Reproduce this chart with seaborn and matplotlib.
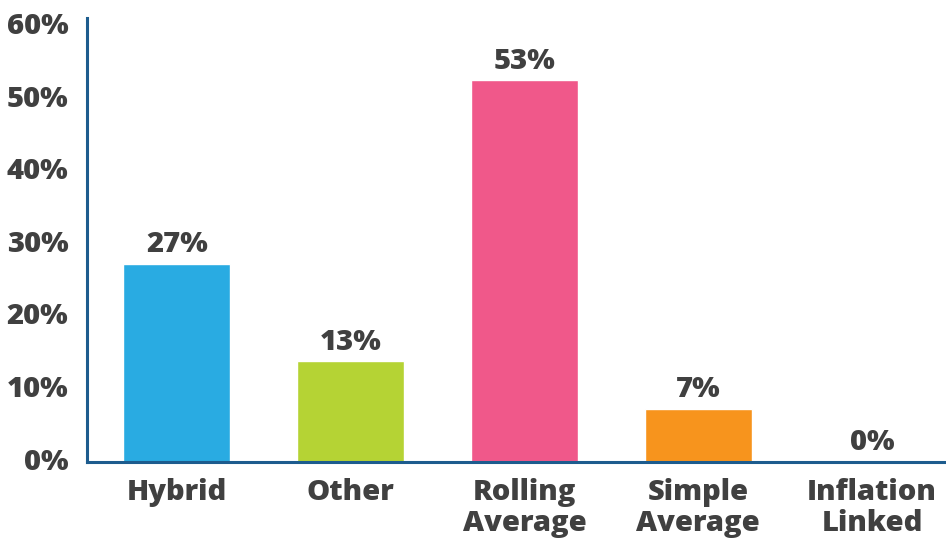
import pandas as pd
import seaborn as sns
import matplotlib.pyplot as plt
from matplotlib.transforms import ScaledTranslation

# Chart data (bar heights, labels as printed)
categories = ["Hybrid", "Other", "Rolling\nAverage", "Simple\nAverage", "Inflation\nLinked"]
shares = [27.25, 13.8, 52.5, 7.2, 0]
share_labels = ["27%", "13%", "53%", "7%", "0%"]
bar_colors = ["#29ABE2", "#B5D334", "#F0588A", "#F7941D", "#9E9E9E"]
y_ticks = [0, 10, 20, 30, 40, 50, 60]
y_tick_labels = ["0%", "10%", "20%", "30%", "40%", "50%", "60%"]

TEXT = "#404040"
AXIS = "#1D5C8E"
FS = 21
WEIGHT = "heavy"

sns.set_style("white")
plt.rcParams["font.family"] = ["Open Sans", "DejaVu Sans"]

df = pd.DataFrame({"category": categories, "share": shares})

fig = plt.figure(figsize=(9.46, 5.38), dpi=100)
ax = fig.add_axes([0.092, 0.142, 0.908, 0.824])

sns.barplot(data=df, x="category", y="share", hue="category",
            palette=dict(zip(categories, bar_colors)), width=0.615,
            saturation=1, legend=False, ax=ax)

for container, lab in zip(ax.containers, share_labels):
    ax.bar_label(container, labels=[lab], padding=3.5, fontsize=FS,
                 fontweight=WEIGHT, color=TEXT)

ax.set_xlim(-0.517, 4.425)
ax.set_ylim(0, 61.05)
ax.set_yticks(y_ticks)
ax.set_yticklabels(y_tick_labels)
ax.set_xlabel("")
ax.set_ylabel("")

ax.tick_params(axis="y", length=0, pad=13.5, labelsize=FS, labelcolor=TEXT)
ax.tick_params(axis="x", length=0, pad=11.5, labelsize=FS, labelcolor=TEXT)
for lbl in ax.get_xticklabels() + ax.get_yticklabels():
    lbl.set_fontweight(WEIGHT)
    lbl.set_linespacing(1.12)
# nudge the y labels up a little, like the original
shift = ScaledTranslation(0, 3 / 100, fig.dpi_scale_trans)
for lbl in ax.get_yticklabels():
    lbl.set_transform(lbl.get_transform() + shift)

sns.despine(ax=ax, top=True, right=True)
for side in ["left", "bottom"]:
    ax.spines[side].set_color(AXIS)
    ax.spines[side].set_linewidth(2.2)

fig.savefig("out.png", dpi=100)
